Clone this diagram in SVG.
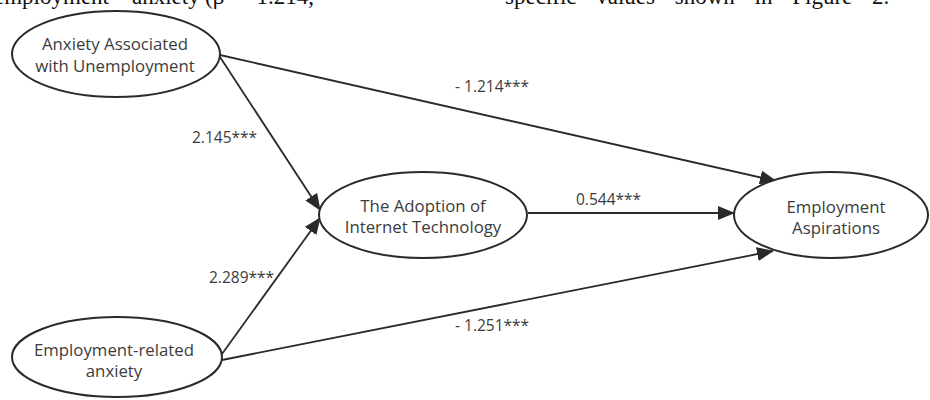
<svg xmlns="http://www.w3.org/2000/svg" width="930" height="400" viewBox="0 0 930 400">
<style>
.node ellipse{fill:#fff;stroke:#2a2a2a;stroke-width:2}
.lbl{font-family:"Open Sans","Noto Sans",sans-serif;font-size:15.5px;fill:#3c3c3c}
.nt{font-family:"Open Sans","Noto Sans",sans-serif;font-size:16.8px;fill:#3c3c3c;text-anchor:middle}
.edge line{stroke:#2a2a2a;stroke-width:1.8;fill:none}
.para{font-family:"Liberation Serif","Times New Roman",serif;font-size:23px;fill:#111}
</style>
<defs>
<marker id="arr" markerUnits="userSpaceOnUse" markerWidth="18" markerHeight="14" refX="16" refY="7" orient="auto">
<path d="M0,0 L17,7 L0,14 Z" fill="#2a2a2a"/>
</marker>
</defs>
<rect width="930" height="400" fill="#fff"/>
<g id="para-line">
<text class="para" x="-6" y="4">employment</text>
<text class="para" x="132" y="4">anxiety</text>
<text class="para" x="205" y="4">(β = -1.214,</text>
<text class="para" x="505" y="4" word-spacing="14">specific values shown in Figure 2.</text>
</g>
<g id="connectors" class="edge">
<line x1="220" y1="55" x2="776" y2="181" marker-end="url(#arr)"/>
<line x1="220" y1="57" x2="320" y2="210" marker-end="url(#arr)"/>
<line x1="222" y1="354" x2="320" y2="218" marker-end="url(#arr)"/>
<line x1="222" y1="360" x2="773" y2="251" marker-end="url(#arr)"/>
<line x1="528" y1="213" x2="734" y2="213" marker-end="url(#arr)"/>
</g>
<g id="n-anxiety-unemp" class="node">
<ellipse cx="116" cy="54" rx="104" ry="43"/>
<text class="nt" x="115" y="50">Anxiety Associated</text>
<text class="nt" x="115" y="72">with Unemployment</text>
</g>
<g id="n-adoption" class="node">
<ellipse cx="423" cy="215" rx="104" ry="43"/>
<text class="nt" x="423" y="212">The Adoption of</text>
<text class="nt" x="423" y="233">Internet Technology</text>
</g>
<g id="n-aspirations" class="node">
<ellipse cx="831" cy="215" rx="97" ry="43"/>
<text class="nt" x="836" y="213">Employment</text>
<text class="nt" x="836" y="234">Aspirations</text>
</g>
<g id="n-emp-anxiety" class="node">
<ellipse cx="117" cy="357" rx="105" ry="40"/>
<text class="nt" x="114" y="356">Employment-related</text>
<text class="nt" x="114" y="377">anxiety</text>
</g>
<g id="labels">
<text class="lbl" x="455" y="92">- 1.214***</text>
<text class="lbl" x="192" y="143">2.145***</text>
<text class="lbl" x="576" y="205">0.544***</text>
<text class="lbl" x="209" y="283">2.289***</text>
<text class="lbl" x="455" y="331">- 1.251***</text>
</g>
</svg>
